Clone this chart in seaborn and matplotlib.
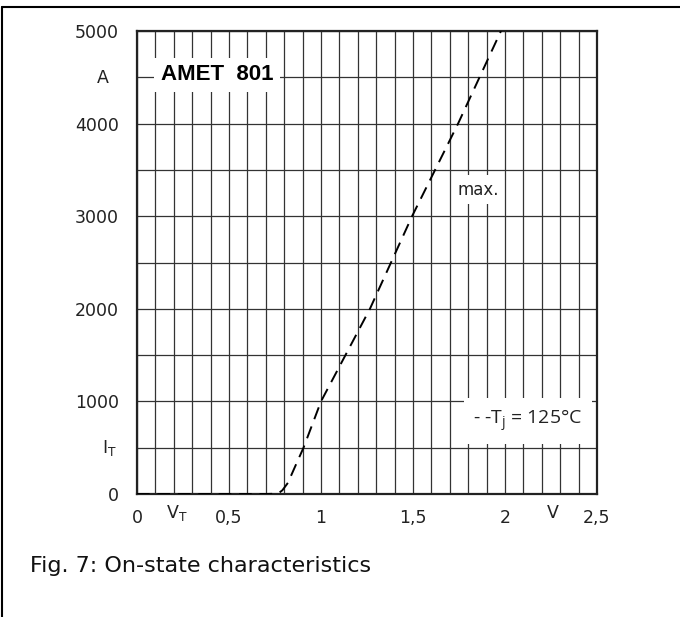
import matplotlib
matplotlib.use("Agg")
import matplotlib.pyplot as plt
import numpy as np
import pandas as pd
import seaborn as sns

# On-state characteristic, max., Tj = 125 C
v_t = [0.0, 0.50, 0.70, 0.74, 0.77, 0.79, 0.82, 0.86, 0.905, 1.00, 1.266, 1.495, 1.745, 1.978]
i_t = [0, 0, 0, 2, 10, 40, 120, 300, 500, 1000, 2000, 3000, 4000, 5000]

x_ticks = [0, 0.5, 1, 1.5, 2, 2.5]
x_labels = ["0", "0,5", "1", "1,5", "2", "2,5"]
y_ticks = [0, 1000, 2000, 3000, 4000, 5000]

df = pd.DataFrame({"V": v_t, "I": i_t})

sns.set_style("white")
plt.rcParams["font.family"] = ["DejaVu Sans"]

fig = plt.figure(figsize=(6.8, 6.17), dpi=100)
ax = fig.add_axes([137 / 680, 1 - 494 / 617, 460 / 680, 463 / 617])

sns.lineplot(data=df, x="V", y="I", ax=ax, color="black", linewidth=1.4,
             linestyle=(0, (6.5, 4)), zorder=3)

ax.set_xlim(0, 2.5)
ax.set_ylim(0, 5000)
ax.set_xticks(np.arange(0, 2.51, 0.1), minor=True)
ax.set_yticks(np.arange(0, 5001, 500), minor=True)
ax.set_xticks(x_ticks)
ax.set_xticklabels(x_labels)
ax.set_yticks(y_ticks)
ax.grid(True, which="both", color="#333333", linewidth=0.9)
ax.tick_params(which="both", length=0, labelsize=12.5, colors="#222222")
ax.tick_params(axis="x", pad=11)
ax.tick_params(axis="y", pad=13)
ax.set_xlabel("")
ax.set_ylabel("")
for s in ax.spines.values():
    s.set_visible(True)
    s.set_color("#222222")
    s.set_linewidth(1.6)

# unit and symbol labels
lab = dict(ha="center", va="center", fontsize=12.5, color="#222222")
ax.text(-0.185, 4490, "A", **lab)
ax.text(-0.15, 500, "I$_\\mathregular{T}$", **lab)
ax.text(0.217, -205, "V$_\\mathregular{T}$", **lab)
ax.text(2.26, -205, "V", **lab)

ax.text(0.435, 4525, "AMET  801", ha="center", va="center", fontsize=16, fontweight="bold",
        family=["Liberation Sans", "DejaVu Sans"], color="black",
        bbox=dict(facecolor="white", edgecolor="none", pad=5), zorder=4)
ax.text(1.853, 3283, "max.", ha="center", va="center", fontsize=12, color="#222222",
        bbox=dict(facecolor="white", edgecolor="none", pad=4), zorder=4)
ax.text(2.125, 790, "- -T$_\\mathregular{j}$ = 125°C", ha="center", va="center", fontsize=14,
        family=["Open Sans", "DejaVu Sans"], color="#222222",
        bbox=dict(facecolor="white", edgecolor="none", pad=7), zorder=4)

fig.text(30 / 680, 1 - 566 / 617, "Fig. 7: On-state characteristics", ha="left", va="center",
         fontsize=16, color="#111111")

# frame lines of the figure box
fig.add_artist(plt.Line2D([2 / 680, 1], [1 - 7 / 617] * 2, color="black", linewidth=1.5))
fig.add_artist(plt.Line2D([2 / 680] * 2, [0, 1 - 7 / 617], color="black", linewidth=1.5))

fig.savefig("out.png", dpi=100)
